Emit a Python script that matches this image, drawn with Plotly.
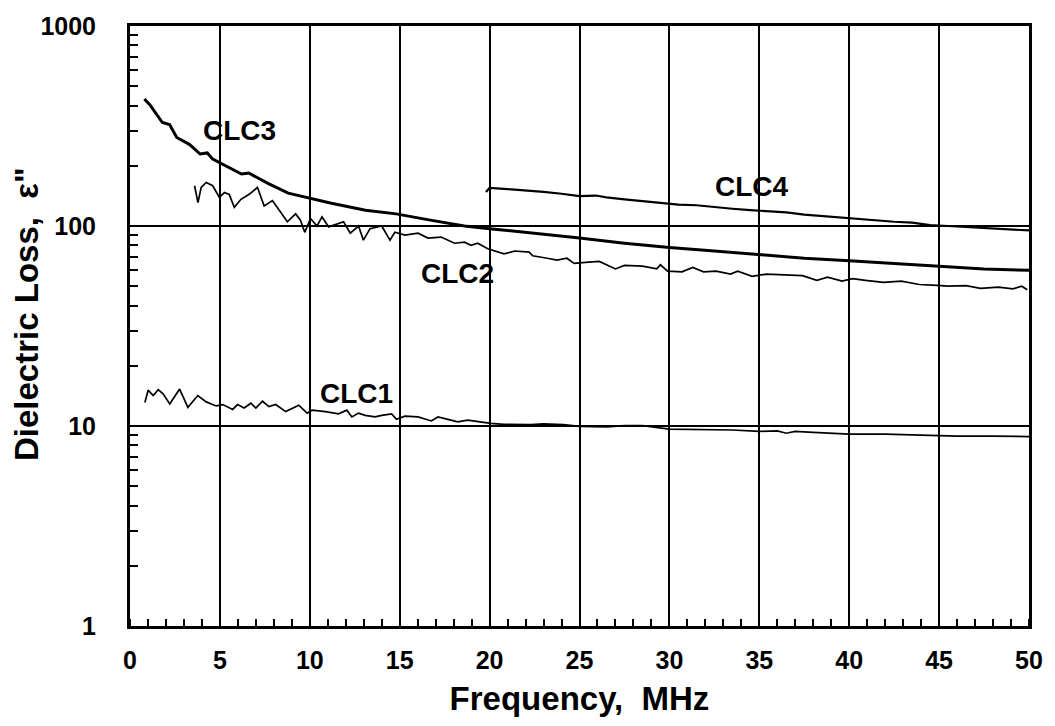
import math
import plotly.graph_objects as go

# Dielectric loss vs frequency for four samples (log scale)
clc1_f = [0.83, 1.01, 1.29, 1.57, 1.84, 2.21, 2.76, 3.22, 3.77, 4.24, 4.79, 5.16, 5.71, 5.98,
          6.35, 6.72, 7.0, 7.37, 7.73, 8.1, 8.66, 9.39, 9.85, 10.13, 10.87, 11.6, 12.06, 12.34,
          12.71, 13.08, 13.63, 14.0, 14.55, 14.82, 15.29, 16.02, 16.76, 17.13, 17.68, 18.23,
          18.78, 19.34, 20.07, 20.8, 22.3, 23.0, 24.1, 25.0, 26.5, 27.5, 28.5, 30.0, 32.0, 33.5,
          35.0, 36.0, 36.5, 37.0, 38.0, 40.0, 42.0, 44.0, 46.0, 48.0, 50.0]
clc1_e = [13.1, 15.1, 14.2, 15.2, 14.5, 12.9, 15.3, 12.4, 14.2, 13.2, 12.6, 12.8, 12.1, 12.8,
          12.3, 13.0, 12.3, 13.3, 12.5, 12.8, 11.8, 12.7, 11.6, 12.0, 11.8, 11.5, 12.0, 11.1,
          11.6, 11.3, 11.1, 11.3, 11.5, 10.8, 11.2, 11.1, 10.6, 11.1, 10.8, 10.5,
          10.7, 10.5, 10.3, 10.2, 10.15, 10.25, 10.15, 9.95, 9.9, 10.05, 10.05, 9.65, 9.6, 9.55,
          9.4, 9.45, 9.2, 9.4, 9.3, 9.1, 9.1, 9.0, 8.9, 8.9, 8.85]

clc2_f = [3.59, 3.78, 3.96, 4.24, 4.6, 4.97, 5.25, 5.52, 5.8, 6.17, 6.63, 7.09, 7.46, 7.92, 8.38,
          8.75, 9.21, 9.48, 9.72, 10.04, 10.4, 10.68, 11.05, 11.42, 11.88, 12.25, 12.71, 12.98,
          13.35, 14.0, 14.46, 14.73, 15.29, 16.02, 16.57, 17.3, 18.05, 18.6, 18.97, 19.34, 19.9,
          20.8, 21.4, 22.2, 22.4, 23.2, 23.75, 24.3, 24.7, 25.5, 26.1, 27.0, 27.5, 28.5, 29.3,
          29.5, 29.9, 30.7, 31.3, 31.9, 32.6, 33.4, 33.8, 34.6, 35.4, 36.4, 37.4, 38.2, 38.8,
          39.6, 40.2, 40.9, 41.9, 42.9, 43.9, 44.9, 45.5, 46.5, 47.3, 48.3, 49.1, 49.6, 49.9]
clc2_e = [159, 131, 156, 165, 159, 139, 147, 144, 124, 136, 144, 156, 126, 134, 117,
          105, 115, 107, 93, 109, 100, 111, 99, 102, 105, 92, 100, 85,
          97, 100, 85, 93, 90, 92, 87, 88, 82, 83, 80, 82, 77,
          72.5, 75, 74, 71, 69, 67.5, 69, 65, 66, 66.5, 61, 63.5, 63, 61,
          64, 59.5, 59, 62, 59, 59.5, 57.5, 59.5, 56, 57.5, 57, 56.5, 53.5, 55.5,
          53, 54.5, 53.5, 52.3, 53, 51, 50.5, 50, 50.3, 48.8, 49.5, 48.5, 50, 48]

clc3_f = [0.8, 1.1, 1.8, 2.2, 2.6, 3.3, 3.9, 4.3, 4.6, 5.4, 6.2, 6.6, 7.7, 8.8, 9.8, 11.2,
          13.1, 14.8, 16.7, 18.6, 20, 22.5, 25, 27.5, 30, 32.5, 35, 37.5, 40, 42.5, 45, 47.5, 50]
clc3_e = [432, 404, 329, 322, 277, 256, 229, 232, 216, 198, 182, 184, 163, 146, 139, 130,
          120, 115, 107, 100, 97, 92, 87, 82, 78, 75, 72, 69, 67, 65, 63, 61, 60]

clc4_f = [19.8, 20.0, 21, 22, 23, 24, 25, 25.9, 26.5, 27.5, 28.5, 29.5, 30.5, 31.5, 32.5, 33.5,
          34.5, 35.5, 36.5, 37.5, 38.5, 39.5, 40.5, 41.5, 42.5, 43.5, 44.5, 45.5, 46.5, 47.5,
          48.5, 49.5, 50]
clc4_e = [148, 155, 153, 151, 148, 145, 141, 142, 139, 136, 133, 131, 128, 127, 125, 122,
          120, 118, 117, 114, 112, 110, 108, 107, 105, 104, 101, 100, 99, 98, 97, 96, 95]

# (name, x, y) placement of the curve labels
labels = [("CLC3", 6.1, 300), ("CLC2", 18.2, 58), ("CLC4", 34.6, 158), ("CLC1", 12.6, 14.6)]

x_ticks = [0, 5, 10, 15, 20, 25, 30, 35, 40, 45, 50]
y_ticks = [1, 10, 100, 1000]
y_minor = [2, 3, 4, 5, 6, 7, 8, 9, 20, 30, 40, 50, 60, 70, 80, 90,
           200, 300, 400, 500, 600, 700, 800, 900]

FONT = "Liberation Sans, Arial, sans-serif"

fig = go.Figure()
for fx, ex, w in [(clc1_f, clc1_e, 1.7), (clc2_f, clc2_e, 1.7),
                  (clc3_f, clc3_e, 3.0), (clc4_f, clc4_e, 2.2)]:
    fig.add_trace(go.Scatter(x=fx, y=ex, mode="lines",
                             line=dict(color="black", width=w), showlegend=False))

for name, lx, ly in labels:
    fig.add_annotation(x=lx, y=math.log10(ly), xref="x", yref="y", text=f"<b>{name}</b>",
                       showarrow=False, font=dict(family=FONT, size=28, color="black"))

# vertical axis title placed by hand so it can sit beside the tick labels
fig.add_annotation(x=0, y=0.52, xref="paper", yref="paper", xanchor="center", yanchor="middle",
                   xshift=-104, text='<b>Dielectric Loss,  ε"</b>', textangle=-90,
                   showarrow=False, font=dict(family=FONT, size=33, color="black"))

fig.update_layout(
    width=1055, height=726,
    margin=dict(l=130, r=20, t=18, b=100),
    paper_bgcolor="white", plot_bgcolor="white",
    font=dict(family=FONT, color="black"),
)
fig.update_xaxes(
    range=[0, 50], tickvals=x_ticks, ticktext=[f"<b>{v}</b>" for v in x_ticks],
    showgrid=True, gridcolor="black", gridwidth=1.5,
    showline=True, linecolor="black", linewidth=3, mirror=True,
    ticks="", tickfont=dict(family=FONT, size=25, color="black"),
    ticklabelstandoff=10,
    minor=dict(dtick=1, ticks="inside", ticklen=7, tickcolor="black", tickwidth=1.5, showgrid=False),
    zeroline=False,
    title=dict(text="<b>Frequency,  MHz</b>", font=dict(family=FONT, size=33), standoff=14),
)
fig.update_yaxes(
    type="log", range=[0, 3],
    tickvals=y_ticks, ticktext=[f"<b>{v}</b>" for v in y_ticks],
    showgrid=True, gridcolor="black", gridwidth=1.5,
    showline=True, linecolor="black", linewidth=3, mirror=True,
    ticks="", tickfont=dict(family=FONT, size=25, color="black"),
    ticklabelstandoff=26,
    minor=dict(tickvals=y_minor, ticks="inside", ticklen=8, tickcolor="black",
               tickwidth=1.5, showgrid=False),
    zeroline=False,
)

fig.write_html("out.html")
